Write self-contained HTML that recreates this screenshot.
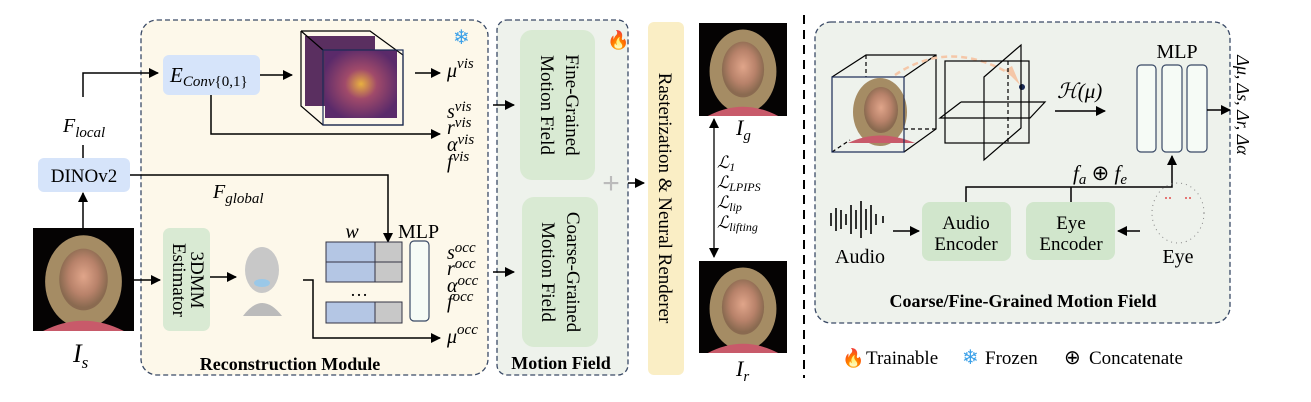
<!DOCTYPE html>
<html><head><meta charset="utf-8"><style>
html,body{margin:0;padding:0;background:#fff;}
svg{display:block;font-family:"Liberation Serif",serif;}
.it{font-style:italic;}
</style></head><body>
<svg width="1311" height="402" viewBox="0 0 1311 402" xmlns="http://www.w3.org/2000/svg">
<defs>
<marker id="ah" markerWidth="10" markerHeight="10" refX="9" refY="5" orient="auto" markerUnits="userSpaceOnUse"><path d="M0,0 L10,5 L0,10 z" fill="#000"/></marker>
<marker id="ahs" markerWidth="10" markerHeight="10" refX="1" refY="5" orient="auto" markerUnits="userSpaceOnUse"><path d="M10,0 L0,5 L10,10 z" fill="#000"/></marker>
<radialGradient id="face" cx="50%" cy="45%" r="50%"><stop offset="0" stop-color="#e0a58a"/><stop offset="0.6" stop-color="#b8826a"/><stop offset="1" stop-color="#8a6a50"/></radialGradient>
<radialGradient id="feat" cx="50%" cy="50%" r="55%"><stop offset="0" stop-color="#e8b040"/><stop offset="0.4" stop-color="#a04a6a"/><stop offset="1" stop-color="#5a2a6a"/></radialGradient>
<g id="photo">
<rect x="0" y="0" width="100" height="100" fill="#050303"/>
<ellipse cx="50" cy="52" rx="38" ry="45" fill="#a58c64"/>
<ellipse cx="50" cy="50" rx="24" ry="30" fill="url(#face)"/>
<path d="M10,100 Q50,80 90,100 z" fill="#c85a6a"/>
</g>
</defs>

<rect x="141" y="20" width="347" height="355" rx="16" fill="#fdf8ea" stroke="#3a4a66" stroke-width="1.3" stroke-dasharray="5,3"/>
<rect x="497" y="20" width="131" height="355" rx="10" fill="#eef2ec" stroke="#3a4a66" stroke-width="1.3" stroke-dasharray="5,3"/>
<rect x="520" y="30" width="75" height="150" rx="12" fill="#d9ead3"/>
<rect x="522" y="197" width="76" height="150" rx="12" fill="#d9ead3"/>
<text transform="translate(566,105) rotate(90)" text-anchor="middle" font-size="19">Fine-Grained</text>
<text transform="translate(541,105) rotate(90)" text-anchor="middle" font-size="19">Motion Field</text>
<text transform="translate(567,272) rotate(90)" text-anchor="middle" font-size="19">Coarse-Grained</text>
<text transform="translate(542,272) rotate(90)" text-anchor="middle" font-size="19">Motion Field</text>
<text x="611" y="193" text-anchor="middle" font-size="30" fill="#bbb" font-family="Liberation Sans,sans-serif">+</text>
<text x="561" y="369" text-anchor="middle" font-size="18" font-weight="bold">Motion Field</text>
<text x="607" y="46" font-size="18">🔥</text>
<text x="453" y="44" font-size="20" fill="#3aa0e8">❄</text>

<use href="#photo" transform="translate(33,228) scale(1.01,1.03)"/>
<text x="73" y="362" font-size="26" class="it">I<tspan font-size="17" dy="6">s</tspan></text>
<line x1="83" y1="228" x2="83" y2="193" stroke="#000" stroke-width="1.5" marker-end="url(#ah)"/>
<rect x="38" y="158" width="92" height="34" rx="6" fill="#d6e4fa"/>
<text x="84" y="182" text-anchor="middle" font-size="19">DINOv2</text>
<polyline points="83,158 83,145" fill="none" stroke="#000" stroke-width="1.5"/>
<text x="63" y="132" font-size="20" class="it">F<tspan font-size="15" dy="5">local</tspan></text>
<polyline points="83,97 83,73 158,73" fill="none" stroke="#000" stroke-width="1.5" marker-end="url(#ah)"/>
<rect x="163" y="55" width="97" height="40" rx="6" fill="#d6e4fa"/>
<text x="170" y="82" font-size="21" class="it">E<tspan font-size="15" dy="4">Conv</tspan><tspan font-style="normal" font-size="15">{0,1}</tspan></text>
<line x1="260" y1="75" x2="292" y2="75" stroke="#000" stroke-width="1.5" marker-end="url(#ah)"/>
<rect x="305" y="36" width="70" height="70" fill="#5a2f60"/>
<rect x="325" y="50" width="72" height="68" fill="url(#feat)"/>
<polyline points="301,31 370,31 403,55 403,125 323,125 301,106 301,31" fill="none" stroke="#000" stroke-width="1.2"/>
<line x1="301" y1="31" x2="323" y2="50" stroke="#000" stroke-width="1.2"/>
<rect x="323" y="50" width="80" height="75" fill="none" stroke="#1a2a55" stroke-width="1.2"/>
<line x1="415" y1="73" x2="440" y2="73" stroke="#000" stroke-width="1.5" marker-end="url(#ah)"/>
<text x="447" y="77" font-size="20" class="it">μ<tspan font-size="15" dy="-9">vis</tspan></text>
<polyline points="211,95 211,134 440,134" fill="none" stroke="#000" stroke-width="1.5" marker-end="url(#ah)"/>
<g font-size="20" class="it">
<text x="447" y="118">s<tspan font-size="15" dy="-7">vis</tspan></text>
<text x="447" y="134">r<tspan font-size="15" dy="-7">vis</tspan></text>
<text x="447" y="151">α<tspan font-size="15" dy="-7">vis</tspan></text>
<text x="447" y="168">f<tspan font-size="15" dy="-7">vis</tspan></text>
</g>
<line x1="493" y1="105" x2="514" y2="105" stroke="#000" stroke-width="1.5" marker-end="url(#ah)"/>
<polyline points="130,175 388,175 388,242" fill="none" stroke="#000" stroke-width="1.5" marker-end="url(#ah)"/>
<text x="213" y="198" font-size="20" class="it">F<tspan font-size="15" dy="5">global</tspan></text>

<line x1="134" y1="280" x2="160" y2="280" stroke="#000" stroke-width="1.5" marker-end="url(#ah)"/>
<rect x="163" y="228" width="47" height="103" rx="7" fill="#d9ead3"/>
<text transform="translate(191,280) rotate(90)" text-anchor="middle" font-size="19">3DMM</text>
<text transform="translate(173,280) rotate(90)" text-anchor="middle" font-size="19">Estimator</text>
<line x1="210" y1="277" x2="236" y2="277" stroke="#000" stroke-width="1.5" marker-end="url(#ah)"/>
<ellipse cx="262" cy="270" rx="17" ry="23" fill="#c8c8c8"/>
<path d="M243,316 Q262,290 282,316 z" fill="#bbb"/>
<ellipse cx="262" cy="283" rx="8" ry="4" fill="#9ac8e8"/>
<text x="352" y="238" font-size="20" class="it" text-anchor="middle">w</text>
<text x="398" y="238" font-size="20">MLP</text>
<g stroke="#334" stroke-width="1">
<rect x="326" y="242" width="49" height="20" fill="#b4c6e4"/><rect x="375" y="242" width="27" height="20" fill="#c8c8c8"/>
<rect x="326" y="262" width="49" height="20" fill="#b4c6e4"/><rect x="375" y="262" width="27" height="20" fill="#c8c8c8"/>
<rect x="326" y="302" width="49" height="21" fill="#b4c6e4"/><rect x="375" y="302" width="27" height="21" fill="#c8c8c8"/>
</g>
<text x="359" y="296" font-size="18" text-anchor="middle">…</text>
<rect x="410" y="241" width="19" height="80" rx="4" fill="#f6fbf6" stroke="#3a4a66" stroke-width="1.2"/>
<polyline points="303,280 313,280 313,338 440,338" fill="none" stroke="#000" stroke-width="1.5" marker-end="url(#ah)"/>
<text x="447" y="343" font-size="20" class="it">μ<tspan font-size="15" dy="-9">occ</tspan></text>
<g font-size="20" class="it">
<text x="447" y="259">s<tspan font-size="15" dy="-7">occ</tspan></text>
<text x="447" y="275">r<tspan font-size="15" dy="-7">occ</tspan></text>
<text x="447" y="292">α<tspan font-size="15" dy="-7">occ</tspan></text>
<text x="447" y="308">f<tspan font-size="15" dy="-7">occ</tspan></text>
</g>
<line x1="493" y1="272" x2="514" y2="272" stroke="#000" stroke-width="1.5" marker-end="url(#ah)"/>
<text x="290" y="370" text-anchor="middle" font-size="18" font-weight="bold">Reconstruction Module</text>

<line x1="628" y1="183" x2="644" y2="183" stroke="#000" stroke-width="1.5" marker-end="url(#ah)"/>
<rect x="648" y="22" width="36" height="353" rx="6" fill="#faeec5"/>
<text transform="translate(659,198) rotate(90)" text-anchor="middle" font-size="19">Rasterization &amp; Neural Renderer</text>

<use href="#photo" transform="translate(699,23) scale(0.88,0.93)"/>
<use href="#photo" transform="translate(699,261) scale(0.88,0.92)"/>
<text x="736" y="135" font-size="22" class="it">I<tspan font-size="15" dy="5">g</tspan></text>
<text x="736" y="376" font-size="22" class="it">I<tspan font-size="15" dy="5">r</tspan></text>
<line x1="714" y1="119" x2="714" y2="257" stroke="#000" stroke-width="1.3" marker-start="url(#ahs)" marker-end="url(#ah)"/>
<g font-size="17" class="it">
<text x="717" y="168">ℒ<tspan font-size="12" dy="3">1</tspan></text>
<text x="717" y="188">ℒ<tspan font-size="12" dy="3">LPIPS</tspan></text>
<text x="717" y="208">ℒ<tspan font-size="12" dy="3">lip</tspan></text>
<text x="717" y="228">ℒ<tspan font-size="12" dy="3">lifting</tspan></text>
</g>

<line x1="804" y1="15" x2="804" y2="378" stroke="#000" stroke-width="2" stroke-dasharray="9,6"/>

<rect x="815" y="22" width="415" height="301" rx="16" fill="#eef2ec" stroke="#3a4a66" stroke-width="1.3" stroke-dasharray="5,3"/>
<g stroke="#000" stroke-width="1.2" fill="none">
<polyline points="832,77 866,55 936,55 936,129 904,152"/>
<line x1="904" y1="77" x2="936" y2="55"/>
<line x1="866" y1="55" x2="866" y2="77" stroke-dasharray="4,3"/>
<line x1="904" y1="129" x2="936" y2="129" stroke-dasharray="4,3"/>
<line x1="832" y1="152" x2="850" y2="140" stroke-dasharray="4,3"/>
</g>
<g>
<ellipse cx="880" cy="112" rx="27" ry="34" fill="#a58c64"/>
<ellipse cx="881" cy="110" rx="17" ry="23" fill="url(#face)"/>
<path d="M848,143 Q880,128 915,143 z" fill="#c85a6a"/>
</g>
<rect x="832" y="77" width="72" height="75" fill="none" stroke="#1a2a55" stroke-width="1.2"/>
<path d="M895,75 Q950,38 1012,75" fill="none" stroke="#f5c7a8" stroke-width="2.5" stroke-dasharray="6,4"/>
<path d="M1005,70 L1020,85 L1012,66 z" fill="#f5c7a8"/>
<circle cx="1022" cy="87" r="3" fill="#1a2a55"/>
<g stroke="#000" stroke-width="1.2" fill="none">
<rect x="945" y="61" width="84" height="82"/>
<polygon points="984,77 1021,45 1021,128 984,160"/>
<polyline points="961,102 1045,102 1030,118 940,118 961,102"/>
<line x1="1008" y1="61" x2="1008" y2="143" stroke-dasharray="4,3"/>
</g>
<text x="1057" y="98" font-size="21" class="it">ℋ(μ)</text>
<line x1="1055" y1="111" x2="1105" y2="111" stroke="#000" stroke-width="1.5" marker-end="url(#ah)"/>
<text x="1177" y="58" text-anchor="middle" font-size="20">MLP</text>
<g fill="#f6fbf6" stroke="#3a4a66" stroke-width="1.2">
<rect x="1137" y="65" width="19" height="87" rx="4"/>
<rect x="1162" y="65" width="20" height="87" rx="4"/>
<rect x="1187" y="65" width="20" height="87" rx="4"/>
</g>
<line x1="1207" y1="110" x2="1230" y2="110" stroke="#000" stroke-width="1.5" marker-end="url(#ah)"/>
<text transform="translate(1237,105) rotate(90)" text-anchor="middle" font-size="18" class="it">Δμ, Δs, Δr, Δα</text>
<text x="1100" y="180" font-size="21" class="it" text-anchor="middle">f<tspan font-size="15" dy="4">a</tspan><tspan dy="-4" font-style="normal"> ⊕ </tspan>f<tspan font-size="15" dy="4">e</tspan></text>
<polyline points="966,202 966,187 1172,187 1172,156" fill="none" stroke="#000" stroke-width="1.5" marker-end="url(#ah)"/>
<line x1="1071" y1="187" x2="1071" y2="202" stroke="#000" stroke-width="1.5"/>
<rect x="922" y="202" width="89" height="59" rx="8" fill="#d1e6cc"/>
<rect x="1026" y="202" width="89" height="58" rx="8" fill="#d1e6cc"/>
<text x="966" y="229" text-anchor="middle" font-size="19">Audio</text>
<text x="966" y="250" text-anchor="middle" font-size="19">Encoder</text>
<text x="1071" y="229" text-anchor="middle" font-size="19">Eye</text>
<text x="1071" y="250" text-anchor="middle" font-size="19">Encoder</text>
<g stroke="#000" stroke-width="1.6">
<line x1="831" y1="213" x2="831" y2="226"/><line x1="836" y1="208" x2="836" y2="231"/><line x1="841" y1="210" x2="841" y2="229"/><line x1="846" y1="214" x2="846" y2="225"/><line x1="851" y1="205" x2="851" y2="234"/><line x1="856" y1="210" x2="856" y2="229"/><line x1="861" y1="201" x2="861" y2="238"/><line x1="866" y1="209" x2="866" y2="230"/><line x1="871" y1="205" x2="871" y2="234"/><line x1="876" y1="214" x2="876" y2="225"/><line x1="883" y1="216" x2="883" y2="223"/>
</g>
<text x="860" y="263" text-anchor="middle" font-size="20">Audio</text>
<line x1="893" y1="231" x2="919" y2="231" stroke="#000" stroke-width="1.5" marker-end="url(#ah)"/>
<line x1="1140" y1="231" x2="1118" y2="231" stroke="#000" stroke-width="1.5" marker-end="url(#ah)"/>
<ellipse cx="1178" cy="213" rx="26" ry="30" fill="none" stroke="#888" stroke-width="1" stroke-dasharray="1,4"/>
<g fill="#e05050"><circle cx="1166" cy="198" r="1"/><circle cx="1170" cy="198" r="1"/><circle cx="1186" cy="198" r="1"/><circle cx="1190" cy="198" r="1"/></g>
<text x="1178" y="263" text-anchor="middle" font-size="20">Eye</text>
<text x="1023" y="307" text-anchor="middle" font-size="18" font-weight="bold">Coarse/Fine-Grained Motion Field</text>

<text x="842" y="364" font-size="18">🔥</text>
<text x="866" y="364" font-size="19">Trainable</text>
<text x="962" y="364" font-size="20" fill="#3aa0e8">❄</text>
<text x="985" y="364" font-size="19">Frozen</text>
<text x="1064" y="364" font-size="20">⊕</text>
<text x="1089" y="364" font-size="19">Concatenate</text>
</svg>
</body></html>
